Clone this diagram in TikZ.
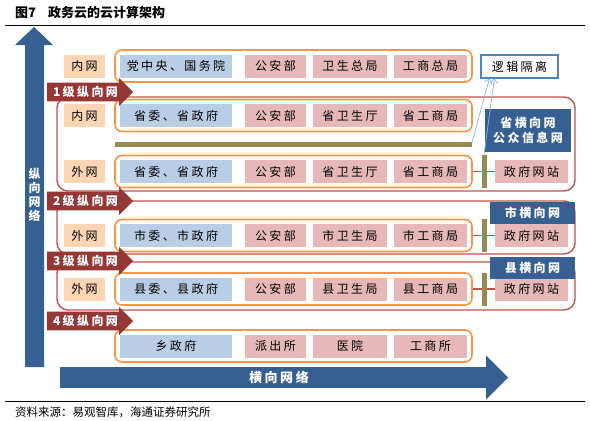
\documentclass[tikz,border=0pt]{standalone}
\usepackage{fontspec}
\setmainfont{Noto Sans CJK SC}
\newfontfamily\boxfont[LetterSpace=20]{Noto Sans CJK SC}
\usetikzlibrary{shapes.arrows,arrows.meta,positioning}

\definecolor{netblue}{RGB}{54,96,146}
\definecolor{lvred}{RGB}{149,55,53}
\definecolor{frred}{RGB}{192,80,77}
\definecolor{roworange}{RGB}{247,150,70}
\definecolor{govblue}{RGB}{185,205,229}
\definecolor{deptpink}{RGB}{230,185,184}
\definecolor{netorange}{RGB}{252,213,181}
\definecolor{barolive}{RGB}{148,138,84}
\definecolor{isoblue}{RGB}{79,129,189}
\definecolor{linkblue}{RGB}{142,180,227}

\tikzset{
  cell/.style={minimum height=23pt, inner sep=0pt, font=\boxfont\fontsize{12}{14}\selectfont},
  govbox/.style={cell, fill=govblue, minimum width=112pt},
  deptbox/.style={cell, fill=deptpink},
  netbox/.style={cell, fill=netorange, minimum width=41pt},
  rowframe/.style={draw=roworange, line width=1.6pt, rounded corners=7pt, minimum width=357pt, minimum height=32pt, inner sep=0pt},
  lvframe/.style={draw=frred, line width=1.4pt, rounded corners=11pt},
  lvarrow/.style={single arrow, fill=lvred, text=white, font=\boxfont\bfseries\fontsize{12}{14}\selectfont, single arrow head extend=4.5pt, single arrow head indent=0pt, inner ysep=3.5pt, inner xsep=0pt, minimum height=86pt, anchor=tail},
  header/.style={fill=netblue, text=white, inner sep=0pt, font=\boxfont\bfseries\fontsize{12}{15}\selectfont, align=center},
  olivebar/.style={fill=barolive, inner sep=0pt},
  link/.style={draw=linkblue, line width=0.7pt, -{Straight Barb[length=4pt]}},
}

\begin{document}
\begin{tikzpicture}[x=1pt, y=-1pt]
\useasboundingbox (0,0) rectangle (590,421);
% title and rules
\node[anchor=west, inner sep=0pt, font=\bfseries\fontsize{13}{15}\selectfont] (title) at (15,13) {图7\hspace{12pt}政务云的云计算架构};
\draw[line width=0.9pt] (5,25) -- (585,25);
\draw[line width=0.9pt] (5,401) -- (585,401);
\node[anchor=west, inner sep=0pt, font=\fontsize{11.5}{13}\selectfont] (src) at (15,412) {资料来源：易观智库，海通证券研究所};

% level frames
\draw[lvframe] (57,97) rectangle (575,191);
\draw[lvframe] (57,201) rectangle (575,254);
\draw[lvframe] (57,262) rectangle (575,310);

% rows of departments
\foreach \r/\y/\g/\a/\b/\c in {A/66/党中央、国务院/公安部/卫生总局/工商总局,
    B/115.5/省委、省政府/公安部/省卫生厅/省工商局,
    C/171.5/省委、省政府/公安部/省卫生厅/省工商局,
    D/235.5/市委、市政府/公安部/市卫生局/市工商局,
    E/289/县委、县政府/公安部/县卫生局/县工商局,
    F/346/乡政府/派出所/医院/工商所}{
  \node[rowframe] (row\r) at (293.5,\y) {};
  \node[govbox] (gov\r) at (176,\y) {\g};
  \node[deptbox, minimum width=61pt] (dpa\r) at (275.5,\y) {\a};
  \node[deptbox, minimum width=74pt] (dpb\r) at (350,\y) {\b};
  \node[deptbox, minimum width=73pt] (dpc\r) at (430.5,\y) {\c};
}

% intranet / extranet labels
\foreach \r/\t in {A/内网, B/内网, C/外网, D/外网, E/外网}
  \node[netbox, left=9pt of row\r.west] (net\r) {\t};

% government websites
\foreach \r in {C,D,E}{
  \node[deptbox, minimum width=73pt, right=22pt of row\r.east] (web\r) {政府网站};
  \draw[frred, line width=1.6pt] (row\r.east) -- (web\r.west);
  \node[olivebar, minimum width=5pt, minimum height=33pt, right=8.5pt of row\r.east] (bar\r) {};
}
\node[olivebar, minimum width=357pt, minimum height=5pt] (hbar) at (293.5,144.5) {};

% horizontal networks
\node[header, minimum width=86pt, minimum height=43pt] (hdC) at (528,130.5) {省横向网\\公众信息网};
\node[header, minimum width=85pt, minimum height=22pt] (hdD) at (532.5,213) {市横向网};
\node[header, minimum width=85pt, minimum height=22pt] (hdE) at (532.5,267.5) {县横向网};

% logical isolation
\node[cell, draw=isoblue, line width=1.2pt, fill=white, minimum width=77pt] (iso) at (519.5,66.5) {逻辑隔离};
\draw[link] (hbar.north east) -- ([xshift=9pt]iso.south west);
\draw[link] (barC.north) -- ([xshift=14pt]iso.south west);

% vertical levels
\node[lvarrow] (lv1) at (47,92) {1级纵向网};
\node[lvarrow] (lv2) at (47,201) {2级纵向网};
\node[lvarrow] (lv3) at (47,261) {3级纵向网};
\node[lvarrow] (lv4) at (47,321) {4级纵向网};

% big arrows
\fill[netblue] (25,367) -- (25,45) -- (15,45) -- (34,27) -- (53,45) -- (44,45) -- (44,367) -- cycle;
\node[text=white, font=\bfseries\fontsize{12}{14}\selectfont, align=center, inner sep=0pt] (vnet) at (34.5,195) {纵\\向\\网\\络};
\node[single arrow, fill=netblue, text=white, font=\boxfont\bfseries\fontsize{13}{15}\selectfont, single arrow head extend=11.5pt, single arrow head indent=0pt, inner ysep=4pt, minimum height=448pt, anchor=tail] (hnet) at (60,377.5) {横向网络};
\end{tikzpicture}
\end{document}
